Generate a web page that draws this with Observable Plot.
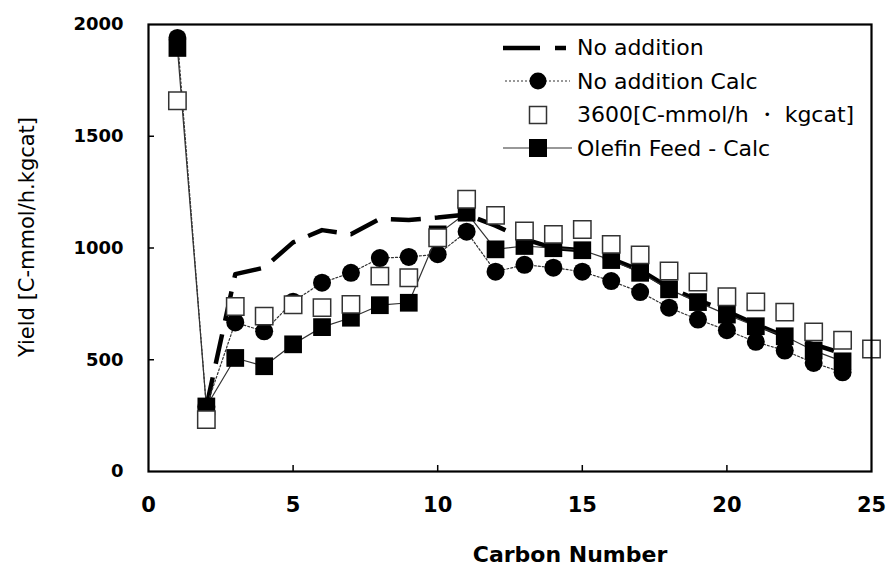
<!DOCTYPE html>
<html>
<head>
<meta charset="utf-8">
<script src="https://cdn.jsdelivr.net/npm/d3@7"></script>
<script src="https://cdn.jsdelivr.net/npm/@observablehq/plot@0.6"></script>
<style>
html, body { margin: 0; padding: 0; background: #fff; }
#wrap { position: relative; width: 887px; height: 567px; font-family: "DejaVu Sans", sans-serif; }
#legend { position: absolute; left: 500px; top: 31px; }
.row { display: flex; align-items: center; height: 33.5px; font-size: 22px; color: #000; white-space: nowrap; }
.row svg { width: 77px; height: 26px; flex: none; }
</style>
</head>
<body>
<div id="wrap"></div>
<script>
// ---- data ----
const carbon = [1,2,3,4,5,6,7,8,9,10,11,12,13,14,15,16,17,18,19,20,21,22,23,24,25];
const noAddition = [null,290,883,912,1025,1080,1062,1130,1125,1136,1150,1100,1040,1000,990,951,901,822,767,717,659,605,569,528,null];
const noAdditionCalc = [1940,290,667,627,760,845,889,955,960,972,1073,894,925,912,894,852,803,733,680,632,580,541,486,444,null];
const feed3600 = [1659,232,738,695,746,733,748,874,867,1046,1218,1146,1076,1061,1083,1016,969,897,848,782,759,713,625,587,548];
const olefinCalc = [1895,291,508,471,569,646,688,744,755,1061,1158,994,1009,999,990,946,889,815,758,702,650,605,541,493,null];
const xTickLabels = [0,5,10,15,20,25];
const xInnerTicks = [5,10,15,20];
const yTickLabels = [0,500,1000,1500,2000];
const yInnerTicks = [500,1000,1500];
const seriesNames = ["No addition","No addition Calc","3600[C-mmol/h \u30FB kgcat]","Olefin Feed - Calc"];

const table = vals => carbon.map((c, i) => ({x: c, y: vals[i]}));
const plain = d => String(d);

const chart = Plot.plot({
  width: 887,
  height: 567,
  marginLeft: 148,
  marginRight: 16,
  marginTop: 24,
  marginBottom: 96,
  x: {domain: [0, 25]},
  y: {domain: [0, 2000]},
  style: {fontFamily: "DejaVu Sans, sans-serif", background: "white", color: "black"},
  marks: [
    Plot.line(table(noAddition), {x: "x", y: "y", stroke: "black", strokeWidth: 4.5, strokeDasharray: "30,14", strokeLinecap: "butt"}),
    Plot.line(table(noAdditionCalc), {x: "x", y: "y", stroke: "#333", strokeWidth: 1.2, strokeDasharray: "2,2"}),
    Plot.dot(table(noAdditionCalc), {x: "x", y: "y", r: 9, fill: "black", symbol: "circle"}),
    Plot.line(table(olefinCalc), {x: "x", y: "y", stroke: "#333", strokeWidth: 1.2}),
    Plot.dot(table(olefinCalc), {x: "x", y: "y", r: 10, fill: "black", symbol: "square"}),
    Plot.dot(table(feed3600), {x: "x", y: "y", r: 9.8, fill: "white", stroke: "#333", strokeWidth: 1.5, symbol: "square"}),
    Plot.frame({stroke: "black", strokeWidth: 2.2}),
    Plot.axisX(xTickLabels, {tickSize: 0, tickPadding: 26, fontSize: 21, fontWeight: "bold", tickFormat: plain, label: null}),
    Plot.axisX(xInnerTicks, {tickSize: 6, dy: -6, fill: "none", stroke: "black", strokeWidth: 1.5, label: null}),
    Plot.axisY(yTickLabels, {tickSize: 0, tickPadding: 25, fontSize: 18, fontWeight: "bold", tickFormat: plain, label: null}),
    Plot.axisY(yInnerTicks, {tickSize: 6, dx: 6, fill: "none", stroke: "black", strokeWidth: 1.5, label: null}),
    Plot.text(["Carbon Number"], {frameAnchor: "bottom", dx: 60, dy: 83, fontSize: 22, fontWeight: "bold", textAnchor: "middle", lineAnchor: "middle"}),
    Plot.text(["Yield [C-mmol/h.kgcat]"], {frameAnchor: "left", rotate: -90, dx: -121, dy: -11, fontSize: 21, textAnchor: "middle", lineAnchor: "middle"})
  ]
});

const wrap = document.getElementById("wrap");
wrap.append(chart);

// ---- legend ----
const swatches = [
  `<line x1="3" x2="66" y1="13" y2="13" stroke="black" stroke-width="4.5" stroke-dasharray="37,15"/>`,
  `<line x1="5" x2="70" y1="13" y2="13" stroke="#333" stroke-width="1.2" stroke-dasharray="2,2"/><circle cx="38" cy="13" r="8.5" fill="black"/>`,
  `<rect x="29.5" y="4.5" width="17" height="17" fill="white" stroke="#333" stroke-width="1.5"/>`,
  `<line x1="3" x2="72" y1="13" y2="13" stroke="#333" stroke-width="1.2"/><rect x="29" y="4" width="18" height="18" fill="black"/>`
];
const legend = document.createElement("div");
legend.id = "legend";
legend.innerHTML = seriesNames.map((n, i) =>
  `<div class="row"><svg viewBox="0 0 77 26">${swatches[i]}</svg><span>${n}</span></div>`).join("");
wrap.append(legend);
</script>
</body>
</html>
